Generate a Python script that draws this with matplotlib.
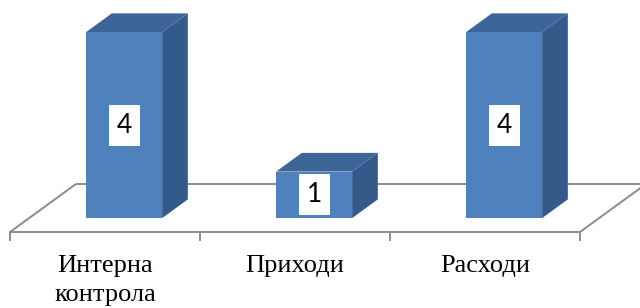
import matplotlib
matplotlib.use("Agg")
import matplotlib.pyplot as plt
from matplotlib.patches import Polygon

categories = ["Интерна\nконтрола", "Приходи", "Расходи"]
values = [4, 1, 4]
value_labels = ["4", "1", "4"]

FRONT = "#4F81BD"
SIDE = "#335A89"
TOP = "#3E6597"
FLOOR = "#8C8C8C"

# oblique projection parameters (depth direction in data units)
DX, DY = 0.347, 1.032
D0, D1 = 0.29, 0.68
W = 0.40

def proj(x, v, d):
    return (x + d * DX, v + d * DY)

fig = plt.figure(figsize=(6.4, 3.08), dpi=100)
ax = fig.add_axes([0, 0, 1, 1])
ax.set_xlim(-0.5526, 2.8158)
ax.set_ylim(-1.634, 4.989)
ax.axis("off")

n = len(categories)
lo, hi = -0.5, n - 0.5
# floor
for pts in ([proj(lo, 0, 0), proj(hi, 0, 0)],
            [proj(lo, 0, 1), proj(hi, 0, 1)],
            [proj(lo, 0, 0), proj(lo, 0, 1)],
            [proj(hi, 0, 0), proj(hi, 0, 1)]):
    ax.plot([p[0] for p in pts], [p[1] for p in pts], color=FLOOR, lw=1.4,
            solid_capstyle="butt", zorder=1, clip_on=False)
for k in range(n + 1):
    x = lo + k
    ax.plot([x, x], [0, -0.17], color=FLOOR, lw=1.4, zorder=1)

for i, v in enumerate(values):
    xl, xr = i - W / 2, i + W / 2
    side = [proj(xr, 0, D0), proj(xr, 0, D1), proj(xr, v, D1), proj(xr, v, D0)]
    top = [proj(xl, v, D0), proj(xr, v, D0), proj(xr, v, D1), proj(xl, v, D1)]
    front = [proj(xl, 0, D0), proj(xr, 0, D0), proj(xr, v, D0), proj(xl, v, D0)]
    ax.add_patch(Polygon(side, closed=True, fc=SIDE, ec="none", zorder=3))
    ax.add_patch(Polygon(top, closed=True, fc=TOP, ec="none", zorder=3))
    ax.add_patch(Polygon(front, closed=True, fc=FRONT, ec="none", zorder=4))
    cx, cy = proj(i, v / 2, D0)
    ax.text(cx, cy, value_labels[i], ha="center", va="center",
            fontsize=19, family=["Lato", "DejaVu Sans"], color="black", zorder=5,
            bbox=dict(boxstyle="square,pad=0.3", fc="white", ec="none"))
    ax.text(i, -0.5, categories[i], ha="center", va="top", fontsize=19,
            family=["Liberation Serif", "DejaVu Serif"], linespacing=1.4,
            zorder=5)

fig.savefig("out.png", dpi=100)
